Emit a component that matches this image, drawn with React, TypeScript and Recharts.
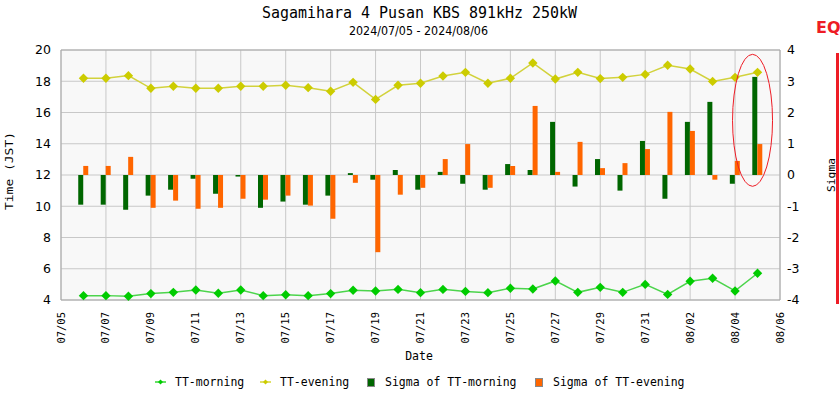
import React from "react";
import {
  Bar,
  CartesianGrid,
  ComposedChart,
  Line,
  ReferenceDot,
  ReferenceLine,
  XAxis,
  YAxis,
} from "recharts";

const YEAR = 2024;

const dates = [
  "07/06", "07/07", "07/08", "07/09", "07/10", "07/11", "07/12", "07/13",
  "07/14", "07/15", "07/16", "07/17", "07/18", "07/19", "07/20", "07/21",
  "07/22", "07/23", "07/24", "07/25", "07/26", "07/27", "07/28", "07/29",
  "07/30", "07/31", "08/01", "08/02", "08/03", "08/04", "08/05",
];
const ttMorning = [
  4.28, 4.28, 4.24, 4.41, 4.49, 4.64, 4.43, 4.64, 4.28, 4.34, 4.28,
  4.41, 4.62, 4.58, 4.68, 4.47, 4.68, 4.55, 4.47, 4.75, 4.7, 5.22,
  4.49, 4.81, 4.49, 5.0, 4.36, 5.2, 5.39, 4.58, 5.71,
];
const ttEvening = [
  18.19, 18.19, 18.36, 17.55, 17.68, 17.55, 17.55, 17.68, 17.68, 17.74, 17.59,
  17.36, 17.93, 16.84, 17.74, 17.87, 18.34, 18.57, 17.87, 18.19, 19.17, 18.14,
  18.57, 18.17, 18.25, 18.44, 19.02, 18.78, 17.99, 18.25, 18.57,
];
const sigmaMorning = [
  -0.95, -0.95, -1.11, -0.66, -0.47, -0.12, -0.6, -0.05, -1.05, -0.85, -0.95,
  -0.66, 0.06, -0.15, 0.16, -0.47, 0.1, -0.28, -0.47, 0.35, 0.16, 1.7,
  -0.37, 0.51, -0.5, 1.09, -0.76, 1.7, 2.34, -0.28, 3.14,
];
const sigmaEvening = [
  0.29, 0.29, 0.58, -1.05, -0.82, -1.08, -1.05, -0.76, -0.79, -0.66, -0.98,
  -1.4, -0.25, -2.47, -0.63, -0.41, 0.51, 0.99, -0.41, 0.29, 2.21, 0.1,
  1.06, 0.22, 0.38, 0.83, 2.02, 1.41, -0.15, 0.45, 0.99,
];
const tickDates = [
  "07/05", "07/07", "07/09", "07/11", "07/13", "07/15", "07/17", "07/19",
  "07/21", "07/23", "07/25", "07/27", "07/29", "07/31", "08/02", "08/04", "08/06",
];
const timeTicks = [4, 6, 8, 10, 12, 14, 16, 18, 20];
const sigmaTicks = [-4, -3, -2, -1, 0, 1, 2, 3, 4];

const MONO = "'DejaVu Sans Mono', monospace";
const SANS = "'DejaVu Sans', sans-serif";
const RED = "#ee1c25";

function toTime(md: string): number {
  const [m, d] = md.split("/").map(Number);
  return Date.UTC(YEAR, m - 1, d);
}

function fmtDate(t: number): string {
  const d = new Date(t);
  const mm = String(d.getUTCMonth() + 1).padStart(2, "0");
  const dd = String(d.getUTCDate()).padStart(2, "0");
  return `${mm}/${dd}`;
}

const rows = dates.map((d, i) => ({
  t: toTime(d),
  morning: ttMorning[i],
  evening: ttEvening[i],
  sigM: sigmaMorning[i],
  sigE: sigmaEvening[i],
}));
const xTicks = tickDates.map(toTime);

function diamond(color: string, r = 4.7) {
  return (p: any) => {
    const { cx, cy, index } = p;
    if (cx == null || cy == null) return <g key={`${color}-${index}`} />;
    return (
      <polygon
        key={`${color}-${index}`}
        points={`${cx},${cy - r} ${cx + r},${cy} ${cx},${cy + r} ${cx - r},${cy}`}
        fill={color}
      />
    );
  };
}

function DateTick({ x, y, payload }: any) {
  return (
    <text
      transform={`translate(${x + 3.5},${y + 4}) rotate(-90)`}
      textAnchor="end"
      fontFamily={MONO}
      fontSize={10.5}
      fill="#000"
    >
      {fmtDate(payload.value)}
    </text>
  );
}

function LineIcon({ x, y, color }: { x: number; y: number; color: string }) {
  return (
    <g>
      <line x1={x} x2={x + 11} y1={y} y2={y} stroke={color} strokeWidth={1.2} />
      <polygon
        points={`${x + 5.5},${y - 2.5} ${x + 8},${y} ${x + 5.5},${y + 2.5} ${x + 3},${y}`}
        fill={color}
      />
    </g>
  );
}

function Overlay() {
  const txt = { fontFamily: MONO, fontSize: 11.5, fill: "#000" };
  return (
    <svg
      width={840}
      height={400}
      style={{ position: "absolute", left: 0, top: 0, pointerEvents: "none" }}
    >
      <text
        x={419.5}
        y={18}
        textAnchor="middle"
        fontFamily={MONO}
        fontSize={16}
        textLength={315}
        lengthAdjust="spacingAndGlyphs"
      >
        Sagamihara 4 Pusan KBS 891kHz 250kW
      </text>
      <text
        x={418.5}
        y={35}
        textAnchor="middle"
        fontFamily={SANS}
        fontSize={12}
        textLength={139}
        lengthAdjust="spacingAndGlyphs"
      >
        2024/07/05 - 2024/08/06
      </text>
      <text
        transform="translate(13,171) rotate(-90)"
        textAnchor="middle"
        {...txt}
        fontSize={11}
        textLength={78}
        lengthAdjust="spacingAndGlyphs"
      >
        Time (JST)
      </text>
      <text
        transform="translate(834.5,175) rotate(-90)"
        textAnchor="middle"
        {...txt}
        fontSize={11}
        textLength={34}
        lengthAdjust="spacingAndGlyphs"
      >
        Sigma
      </text>
      <text x={419} y={360} textAnchor="middle" {...txt}>
        Date
      </text>
      <text x={816} y={33} fontFamily={SANS} fontWeight="bold" fontSize={16} fill={RED}>
        EQ
      </text>
      <rect x={836} y={53} width={3} height={251} fill={RED} />

      <LineIcon x={155} y={382} color="#00cc00" />
      <text x={175} y={386} {...txt}>TT-morning</text>
      <LineIcon x={260} y={382} color="#cccc00" />
      <text x={280} y={386} {...txt}>TT-evening</text>
      <rect x={367.5} y={378.5} width={7} height={8} fill="#006600" stroke="#888" strokeWidth={1} />
      <text x={385} y={386} {...txt}>Sigma of TT-morning</text>
      <rect x={535.5} y={378.5} width={7} height={8} fill="#ff6600" stroke="#888" strokeWidth={1} />
      <text x={553} y={386} {...txt}>Sigma of TT-evening</text>
    </svg>
  );
}

export default function App() {
  const last = rows[rows.length - 1];
  return (
    <div
      style={{
        position: "absolute",
        left: 0,
        top: 0,
        width: 840,
        height: 400,
        background: "#fff",
      }}
    >
      <ComposedChart
        width={840}
        height={400}
        data={rows}
        margin={{ top: 50, right: 0, bottom: 0, left: 0 }}
        barGap={0}
        barCategoryGap={0}
      >
        <CartesianGrid
          yAxisId="left"
          fill="#f8f8f8"
          stroke="#c8c8c8"
          strokeWidth={1}
        />
        <XAxis
          dataKey="t"
          type="number"
          scale="linear"
          domain={[xTicks[0], xTicks[xTicks.length - 1]]}
          ticks={xTicks}
          interval={0}
          height={100}
          tickLine={false}
          axisLine={{ stroke: "#a8a8a8" }}
          tick={<DateTick />}
        />
        <YAxis
          yAxisId="left"
          domain={[4, 20]}
          ticks={timeTicks}
          interval={0}
          width={61}
          tickLine={false}
          tickMargin={4}
          axisLine={{ stroke: "#a8a8a8" }}
          tick={{ fill: "#000", fontSize: 12.5, fontFamily: SANS }}
        />
        <YAxis
          yAxisId="right"
          orientation="right"
          domain={[-4, 4]}
          ticks={sigmaTicks}
          interval={0}
          width={60}
          tickLine={false}
          tickMargin={1}
          axisLine={{ stroke: "#a8a8a8" }}
          tick={{ fill: "#000", fontSize: 12.5, fontFamily: SANS, textAnchor: "start" }}
        />
        <ReferenceLine yAxisId="left" y={20} stroke="#a8a8a8" />
        <Bar
          yAxisId="right"
          dataKey="sigM"
          fill="#006600"
          barSize={5}
          isAnimationActive={false}
        />
        <Bar
          yAxisId="right"
          dataKey="sigE"
          fill="#ff6600"
          barSize={5}
          isAnimationActive={false}
        />
        <Line
          yAxisId="left"
          dataKey="morning"
          stroke="#4cd44c"
          strokeWidth={1.5}
          dot={diamond("#00cc00")}
          activeDot={false}
          isAnimationActive={false}
        />
        <Line
          yAxisId="left"
          dataKey="evening"
          stroke="#d2d23c"
          strokeWidth={1.5}
          dot={diamond("#cccc00")}
          activeDot={false}
          isAnimationActive={false}
        />
        <ReferenceDot
          yAxisId="right"
          x={last.t}
          y={1.75}
          shape={(p: any) => (
            <ellipse
              cx={p.cx - 5}
              cy={p.cy}
              rx={20}
              ry={66}
              fill="none"
              stroke={RED}
              strokeWidth={1}
            />
          )}
        />
      </ComposedChart>
      <Overlay />
    </div>
  );
}
